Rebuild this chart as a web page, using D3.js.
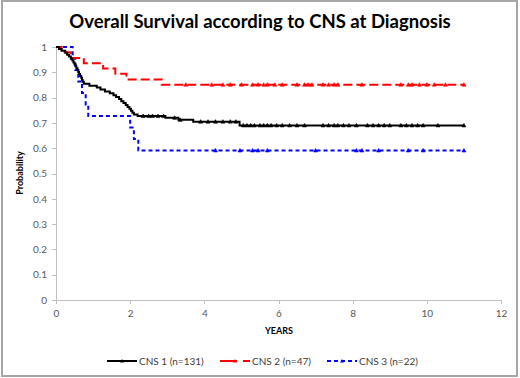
<!DOCTYPE html>
<html lang="en">
	<head>
		<meta charset="utf-8">
		<title>Overall Survival according to CNS at Diagnosis</title>
		<script type="text/javascript" src="https://cdn.jsdelivr.net/npm/d3@7/dist/d3.min.js"></script>
		<style type="text/css">
			body { margin: 0; background: #fff; }
			svg { display: block; }
			.axis path, .axis line { stroke: #bfbfbf; shape-rendering: crispEdges; }
			.axis text { font-family: Lato, "Open Sans", sans-serif; font-size: 10px; fill: #595959; }
			.lbl { font-family: Lato, "Open Sans", sans-serif; font-weight: bold; font-size: 9px; fill: #000; }
			.legend text { font-family: Lato, "Open Sans", sans-serif; font-size: 10px; fill: #404040; }
		</style>
	</head>
	<body>
		<script type="text/javascript">

			var w = 520;
			var h = 378;

			// survival steps: [years, probability]
			var cns1Steps = [
				[0, 1], [0.08, 0.992], [0.15, 0.985], [0.25, 0.977], [0.3, 0.969], [0.35, 0.962],
				[0.4, 0.954], [0.44, 0.947], [0.47, 0.939], [0.5, 0.931], [0.53, 0.924], [0.55, 0.916],
				[0.58, 0.908], [0.6, 0.901], [0.62, 0.893], [0.65, 0.885], [0.68, 0.878], [0.7, 0.870],
				[0.72, 0.863], [0.75, 0.855], [0.9, 0.847], [1.1, 0.840], [1.2, 0.832], [1.32, 0.824],
				[1.45, 0.817], [1.55, 0.809], [1.62, 0.802], [1.7, 0.794], [1.76, 0.786], [1.82, 0.779],
				[1.88, 0.771], [1.93, 0.763], [1.98, 0.756], [2.02, 0.748], [2.06, 0.740], [2.1, 0.733],
				[2.2, 0.727], [2.95, 0.720], [3.3, 0.712], [3.7, 0.705], [4.95, 0.690], [11, 0.690]
			];
			var cns2Steps = [
				[0, 1], [0.15, 0.979], [0.4, 0.957], [0.75, 0.936], [1.27, 0.915], [1.6, 0.894],
				[1.9, 0.872], [2.85, 0.851], [11, 0.851]
			];
			var cns3Steps = [
				[0, 1], [0.45, 0.955], [0.52, 0.909], [0.6, 0.864], [0.7, 0.818], [0.8, 0.773],
				[0.87, 0.727], [2.0, 0.682], [2.1, 0.636], [2.22, 0.591], [11, 0.591]
			];

			// censored times (years)
			var cns1Censor = [2.35, 2.5, 2.6, 2.75, 2.9, 3.2, 3.35, 3.9, 4.1, 4.3, 4.5, 4.7, 4.85,
				5.05, 5.15, 5.25, 5.35, 5.5, 5.6, 5.7, 5.8, 5.95, 6.1, 6.3, 6.5, 6.7,
				7.2, 7.35, 7.5, 7.6, 7.75, 7.9, 8.1, 8.4, 8.55, 8.7, 8.85, 9.0,
				9.3, 9.45, 9.6, 9.75, 9.9, 10.3, 11];
			var cns2Censor = [3.5, 4.2, 4.5, 4.7, 5.0, 5.3, 5.45, 5.6, 5.7, 5.9, 6.1, 6.5, 6.7, 6.8, 6.9,
				7.2, 7.35, 7.5, 7.6, 8.25, 9.3, 9.5, 9.6, 9.8, 10.0, 10.2, 10.5, 11];
			var cns3Censor = [4.3, 4.96, 5.3, 5.45, 5.7, 7.0, 8.1, 8.25, 8.7, 9.5, 9.9, 11];

			var seriesNames = ["CNS 1 (n=131)", "CNS 2 (n=47)", "CNS 3 (n=22)"];
			var seriesColors = ["#000000", "#ff0000", "#0000ff"];
			var seriesDash = [null, "9,4", "4,3"];

			var xTicks = [0, 2, 4, 6, 8, 10, 12];
			var yTicks = [0, 0.1, 0.2, 0.3, 0.4, 0.5, 0.6, 0.7, 0.8, 0.9, 1];

			var svg = d3.select("body").append("svg")
				.attr("width", w)
				.attr("height", h);

			// outer frame
			svg.append("rect")
				.attr("x", 2).attr("y", 1)
				.attr("width", 515).attr("height", 375)
				.attr("fill", "#fff")
				.attr("stroke", "#a6a6a6")
				.attr("stroke-width", 2);

			svg.append("text")
				.attr("x", 260).attr("y", 28)
				.attr("text-anchor", "middle")
				.style("font-family", "Lato, 'Open Sans', sans-serif")
				.style("font-weight", "bold")
				.style("font-size", "18.5px")
				.text("Overall Survival according to CNS at Diagnosis");

			var xScale = d3.scaleLinear().domain([0, 12]).range([56, 501]);
			var yScale = d3.scaleLinear().domain([0, 1]).range([300, 47]);

			var xAxis = d3.axisBottom(xScale).tickValues(xTicks).tickSize(4).tickPadding(6);
			var yAxis = d3.axisLeft(yScale).tickValues(yTicks).tickSize(4).tickPadding(5)
				.tickFormat(function(d){ return d3.format("")(+d.toFixed(1)); });

			svg.append("g")
				.attr("class", "axis")
				.attr("transform", "translate(0," + yScale(0) + ")")
				.call(xAxis);

			svg.append("g")
				.attr("class", "axis")
				.attr("transform", "translate(" + xScale(0) + ",0)")
				.call(yAxis);

			svg.append("text").attr("class", "lbl")
				.attr("x", 279).attr("y", 334)
				.attr("text-anchor", "middle")
				.text("YEARS");

			svg.append("text").attr("class", "lbl")
				.attr("transform", "translate(23,173) rotate(-90)")
				.attr("text-anchor", "middle")
				.text("Probability");

			var steps = [cns1Steps, cns2Steps, cns3Steps];
			var censors = [cns1Censor, cns2Censor, cns3Censor];

			var line = d3.line()
				.x(function(d){ return xScale(d[0]); })
				.y(function(d){ return yScale(d[1]); })
				.curve(d3.curveStepAfter);

			// survival value at time t for a step list
			function survAt(s, t){
				var v = s[0][1];
				for (var i=0; i<s.length; i++){
					if (s[i][0] <= t) v = s[i][1];
				}
				return v;
			}

			// draw in order blue, red, black so black sits on top like the source
			[2, 1, 0].forEach(function(k){
				svg.append("path")
					.datum(steps[k])
					.attr("d", line)
					.attr("fill", "none")
					.attr("stroke", seriesColors[k])
					.attr("stroke-width", 2)
					.attr("stroke-dasharray", seriesDash[k]);

				svg.append("g").selectAll("path")
					.data(censors[k])
					.enter()
					.append("path")
					.attr("d", function(t){
						var cx = xScale(t), cy = yScale(survAt(steps[k], t));
						return "M" + (cx-2) + "," + (cy+1.5) + "L" + cx + "," + (cy-2) + "L" + (cx+2) + "," + (cy+1.5) + "Z";
					})
					.attr("fill", seriesColors[k])
					.attr("stroke", seriesColors[k])
					.attr("stroke-width", 0.6);
			});

			// legend
			var legendX = [107, 220, 327];
			var legend = svg.append("g").attr("class", "legend");
			seriesNames.forEach(function(name, k){
				var lx = legendX[k];
				legend.append("line")
					.attr("x1", lx).attr("x2", lx + 30)
					.attr("y1", 361).attr("y2", 361)
					.attr("stroke", seriesColors[k])
					.attr("stroke-width", 2)
					.attr("stroke-dasharray", k == 1 ? "17,6,7" : seriesDash[k]);
				legend.append("path")
					.attr("d", "M" + (lx+13) + "," + 362.5 + "L" + (lx+15) + "," + 359 + "L" + (lx+17) + "," + 362.5 + "Z")
					.attr("fill", seriesColors[k]);
				legend.append("text")
					.attr("x", lx + 32).attr("y", 365)
					.text(name);
			});

		</script>
	</body>
</html>
